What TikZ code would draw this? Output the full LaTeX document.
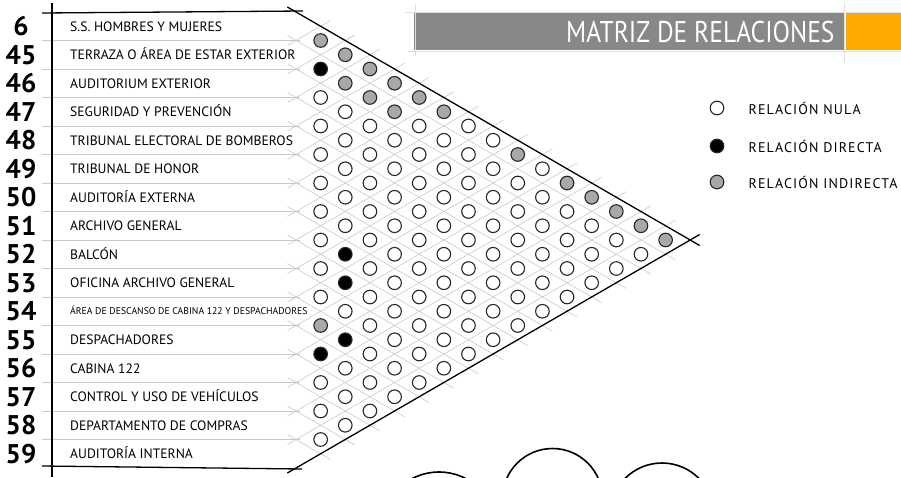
\documentclass[tikz,border=0pt]{standalone}
\usepackage{fontspec}
\setmainfont{PT Sans}
\usepackage{xcolor}
\usetikzlibrary{positioning}

\definecolor{bandgray}{RGB}{136,136,136}
\definecolor{bandorange}{RGB}{255,168,0}
\definecolor{gridgray}{RGB}{200,200,200}
\definecolor{indgray}{RGB}{168,168,168}

% relaciones no nulas (fila-columna), el resto es nula
\foreach \p/\s in {0-1/indirecta, 0-2/indirecta, 0-3/indirecta, 0-4/indirecta,
    0-5/indirecta, 0-6/indirecta, 0-9/indirecta, 0-11/indirecta, 0-12/indirecta,
    0-13/indirecta, 0-14/indirecta, 0-15/indirecta, 1-3/indirecta, 1-4/indirecta,
    1-5/indirecta, 10-11/indirecta, 1-2/directa, 7-9/directa, 8-10/directa,
    10-12/directa, 11-12/directa}{\expandafter\xdef\csname rel\p\endcsname{\s}}

\tikzset{
  rel/.style={circle, draw=black!85, line width=1.1pt, minimum size=13.6pt, inner sep=0pt},
  nula/.style={rel, fill=white},
  directa/.style={rel, fill=black},
  indirecta/.style={rel, fill=indgray},
  rowlabel/.style={anchor=base west, inner sep=0pt},
  rownum/.style={font=\fontsize{27}{27}\selectfont\bfseries, inner sep=0pt},
  legtext/.style={anchor=west, inner sep=0pt, font=\fontsize{14}{14}\selectfont\addfontfeature{LetterSpace=8}},
  grid/.style={gridgray, line width=0.6pt},
  frame/.style={line width=1.3pt},
}

\begin{document}
\begin{tikzpicture}[x=1pt, y=-1pt]
  \useasboundingbox (0,0) rectangle (901,477);

  % banda del titulo
  \fill[bandgray] (414,12.5) rectangle (845,50);
  \fill[bandorange] (846,12.5) rectangle (901,50);
  \draw[black!12] (405,12.5) -- (901,12.5) (408,51) -- (901,51)
    (415,4) -- (415,56) (844.5,3) -- (844.5,62);
  \node[anchor=east, text=white, font=\fontsize{30}{30}\selectfont] (titulo) at (838,32)
    {\scalebox{0.85}[1]{MATRIZ DE RELACIONES}};

  % separadores y reticula
  \foreach \b in {1,...,15}{
    \pgfmathsetmacro\yb{12+28.5*\b}
    \pgfmathsetmacro\ta{16-\b+0.4}
    \pgfmathsetmacro\tb{\b+0.4}
    \draw[grid] (42,\yb) -- (300,\yb);
    \draw[grid] (287.4,\yb-5) -- ({296+\ta*24.64},{\yb+\ta*14.25});
    \draw[grid] (287.4,\yb+5) -- ({296+\tb*24.64},{\yb-\tb*14.25});
  }

  % marco
  \coordinate (sup) at (296,12);
  \coordinate (inf) at (296,468);
  \coordinate (vertice) at (690.2,240);
  \draw[frame] (52,3) -- (52,477);
  \draw[frame] (42,13) -- (303,11);
  \draw[frame] (42,466) -- (302,469);
  \draw[frame, shorten <=-10pt, shorten >=-11pt] (sup) -- (vertice);
  \draw[frame, shorten <=-10pt, shorten >=-11pt] (inf) -- (vertice);

  % filas
  \foreach \n/\t/\s [count=\k from 0] in {6/S.S. HOMBRES Y MUJERES/13.6,
      45/TERRAZA O ÁREA DE ESTAR EXTERIOR/13.6, 46/AUDITORIUM EXTERIOR/13.6,
      47/SEGURIDAD Y PREVENCIÓN/13.6, 48/TRIBUNAL ELECTORAL DE BOMBEROS/13.6,
      49/TRIBUNAL DE HONOR/13.6, 50/AUDITORÍA EXTERNA/13.6, 51/ARCHIVO GENERAL/13.6,
      52/BALCÓN/13.6, 53/OFICINA ARCHIVO GENERAL/13.6,
      54/ÁREA DE DESCANSO DE CABINA 122 Y DESPACHADORES/9.75,
      55/DESPACHADORES/13.6, 56/CABINA 122/13.6, 57/CONTROL Y USO DE VEHÍCULOS/13.6,
      58/DEPARTAMENTO DE COMPRAS/13.6, 59/AUDITORÍA INTERNA/13.6}{
    \node[rownum] (n\k) at (21,{26.25+28.5*\k}) {\n};
    \node[rowlabel, font=\fontsize{\s}{\s}\selectfont] (f\k) at (70,{26.25+28.5*\k+0.35*\s}) {\t};
  }

  % matriz
  \foreach \i in {0,...,14}{
    \pgfmathtruncatemacro\ja{\i+1}
    \foreach \j in {\ja,...,15}{
      \ifcsname rel\i-\j\endcsname \edef\tipo{\csname rel\i-\j\endcsname}\else \def\tipo{nula}\fi
      \node[\tipo] (c\i-\j) at ({296+24.64*(\j-\i)},{12+14.25*(\i+\j+1)}) {};
    }
  }

  % leyenda
  \node[nula] (l-nula) at (717,108) {};
  \node[directa] (l-directa) at (717,146) {};
  \node[indirecta] (l-indirecta) at (717,182) {};
  \node[legtext, right=24pt of l-nula] (t-nula) {RELACIÓN NULA};
  \node[legtext, right=24pt of l-directa] (t-directa) {RELACIÓN DIRECTA};
  \node[legtext, right=24pt of l-indirecta] (t-indirecta) {RELACIÓN INDIRECTA};

  % circulos inferiores
  \begin{scope}
    \clip (0,0) rectangle (901,477);
    \draw[line width=1.6pt] (439,530) circle[radius=58pt] (552.5,498.5) circle[radius=50pt]
      (662,515) circle[radius=52pt];
  \end{scope}
\end{tikzpicture}
\end{document}
